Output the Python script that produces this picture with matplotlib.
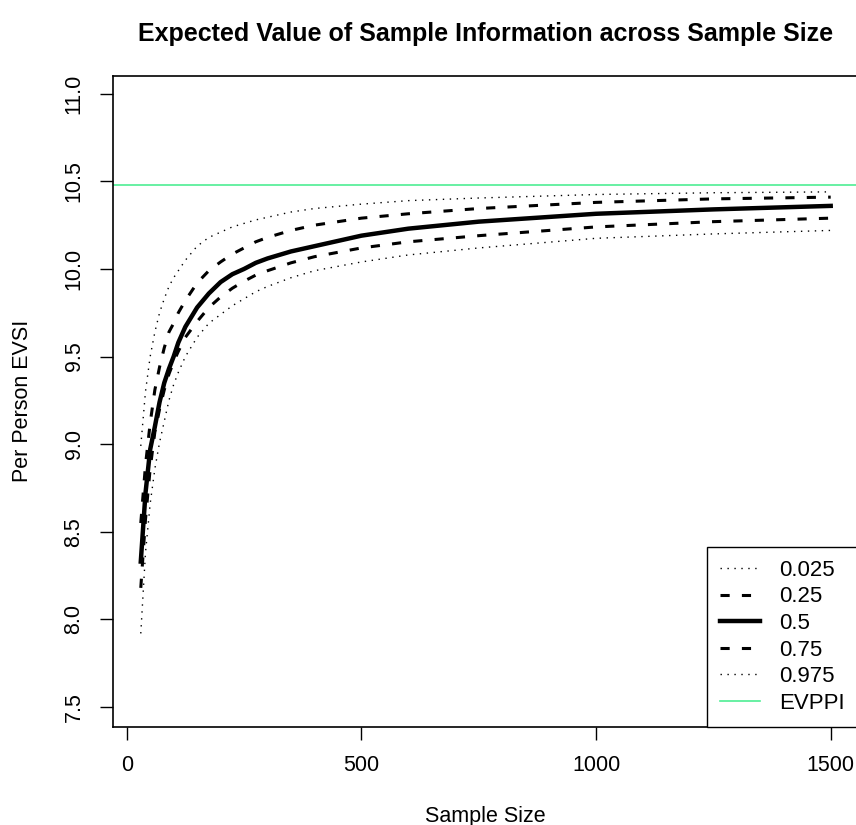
import matplotlib
matplotlib.use("Agg")
import matplotlib.pyplot as plt

plt.rcParams['font.family'] = ['Liberation Sans', 'DejaVu Sans']

# sample sizes and EVSI quantile curves
sample_size = [30, 40, 50, 60, 70, 80, 90, 100, 110, 125, 150, 175, 200, 225,
               250, 275, 300, 350, 400, 500, 600, 750, 1000, 1250, 1500]
q025 = [7.92, 8.38, 8.66, 8.86, 9.01, 9.13, 9.25, 9.34, 9.41, 9.50, 9.61, 9.69,
        9.74, 9.79, 9.83, 9.87, 9.90, 9.95, 9.99, 10.04, 10.08, 10.12, 10.175,
        10.20, 10.22]
q25 = [8.18, 8.57, 8.86, 9.07, 9.20, 9.31, 9.40, 9.47, 9.53, 9.61, 9.70, 9.78,
       9.84, 9.89, 9.93, 9.965, 9.99, 10.035, 10.07, 10.12, 10.155, 10.19, 10.24,
       10.27, 10.29]
q50 = [8.33, 8.72, 8.97, 9.10, 9.24, 9.35, 9.43, 9.50, 9.58, 9.67, 9.78, 9.86,
       9.925, 9.97, 10.00, 10.035, 10.06, 10.10, 10.13, 10.19, 10.23, 10.27,
       10.315, 10.34, 10.36]
q75 = [8.55, 8.88, 9.12, 9.31, 9.44, 9.55, 9.64, 9.69, 9.75, 9.82, 9.92, 9.99,
       10.04, 10.085, 10.12, 10.155, 10.18, 10.22, 10.25, 10.29, 10.315, 10.345,
       10.38, 10.40, 10.41]
q975 = [8.99, 9.30, 9.50, 9.64, 9.75, 9.83, 9.90, 9.95, 9.99, 10.05, 10.13, 10.18,
        10.21, 10.24, 10.26, 10.28, 10.295, 10.325, 10.345, 10.37, 10.39, 10.405,
        10.425, 10.435, 10.44]
evppi = 10.48

labels = ['0.025', '0.25', '0.5', '0.75', '0.975']
x_ticks = [0, 500, 1000, 1500]
y_ticks = [7.5, 8.0, 8.5, 9.0, 9.5, 10.0, 10.5, 11.0]

fig = plt.figure(figsize=(8.56, 8.25), dpi=100)
ax = fig.add_axes([113 / 856, 98 / 825, 745.3 / 856, 651.3 / 825])

dotted = (0, (1, 4))
dashed = (0, (3.0, 4.0))
styles = [(dotted, 1.0), (dashed, 2.2), ('-', 3.2), (dashed, 2.2), (dotted, 1.0)]
for y, lab, (ls, lw) in zip([q025, q25, q50, q75, q975], labels, styles):
    ax.plot(sample_size, y, color='black', linestyle=ls, linewidth=lw, label=lab)
ax.axhline(evppi, color='#4EEE94', linewidth=1.2, label='EVPPI')

ax.set_xlim(-29.2, 1558.8)
ax.set_ylim(7.386, 11.103)
ax.set_xticks(x_ticks)
ax.set_xticklabels([str(t) for t in x_ticks])
ax.set_yticks(y_ticks)
ax.set_yticklabels(['%.1f' % t for t in y_ticks], rotation=90, va='center')
ax.tick_params(direction='out', length=9.5, width=1, labelsize=15.5, pad=11)
for s in ax.spines.values():
    s.set_linewidth(1.2)

ax.set_xlabel('Sample Size', fontsize=15.5, labelpad=21)
ax.set_ylabel('Per Person EVSI', fontsize=15.5, labelpad=22)
ax.set_title('Expected Value of Sample Information across Sample Size',
             fontsize=18, fontweight='bold', pad=25)

leg = ax.legend(loc='lower right', fontsize=16, frameon=True, fancybox=False,
                edgecolor='black', framealpha=1, borderaxespad=0,
                handlelength=1.8, labelspacing=0.25, borderpad=0.6,
                handletextpad=0.85)
leg.get_frame().set_linewidth(1.0)

fig.savefig('out.png', dpi=100)
